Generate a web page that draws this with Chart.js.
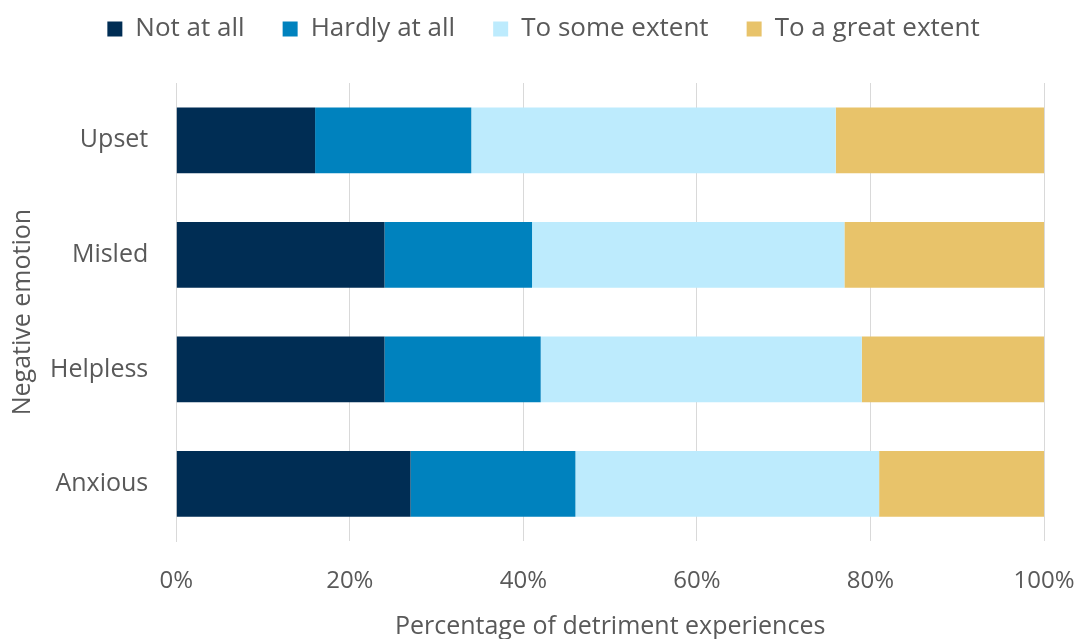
<!DOCTYPE html>
<html><head><meta charset="utf-8">
<script src="https://cdn.jsdelivr.net/npm/chart.js@4"></script>
<style>html,body{margin:0;padding:0;background:#fff}#wrap{width:1085px;height:639px}</style>
</head><body><div id="wrap"><canvas id="c" width="1085" height="639"></canvas></div>
<script>
const categories = ["Upset", "Misled", "Helpless", "Anxious"];
const notAtAll = [16, 24, 24, 27];
const hardlyAtAll = [18, 17, 18, 19];
const toSomeExtent = [42, 36, 37, 35];
const toAGreatExtent = [24, 23, 21, 19];
const seriesNames = ["Not at all", "Hardly at all", "To some extent", "To a great extent"];
const xTicks = [0, 20, 40, 60, 80, 100];

const colors = ["#002D54", "#0082BE", "#BDEBFD", "#E8C36A"];
const values = [notAtAll, hardlyAtAll, toSomeExtent, toAGreatExtent];
const FONT = "'Open Sans', sans-serif";
const TXT = "#595959";

const legendGap = {
  id: 'legendGap',
  beforeInit(chart) {
    const lg = chart.legend;
    if (!lg) return;
    const orig = lg.fit;
    lg.fit = function () { orig.call(this); this.height += 31; };
  }
};

new Chart(document.getElementById('c'), {
  type: 'bar',
  data: {
    labels: categories,
    datasets: seriesNames.map((n, i) => ({
      label: n, data: values[i], backgroundColor: colors[i],
      borderWidth: 0, barPercentage: 0.574, categoryPercentage: 1
    }))
  },
  options: {
    indexAxis: 'y', responsive: false, animation: false,
    layout: { padding: { left: 12, right: 10, top: -22, bottom: -3 } },
    plugins: {
      legend: { position: 'top', labels: { font: { family: FONT, size: 26 }, color: TXT,
        boxWidth: 15, boxHeight: 15, padding: 38 } },
      tooltip: { enabled: false }
    },
    scales: {
      x: { stacked: true, min: 0, max: 100,
        afterBuildTicks: ax => { ax.ticks = xTicks.map(v => ({ value: v })); },
        afterFit: s => { s.paddingRight = 41; },
        ticks: { callback: v => v + '%', font: { family: FONT, size: 24 }, color: TXT, padding: 26 },
        grid: { color: '#D9D9D9', lineWidth: 1, drawTicks: false },
        border: { display: false },
        title: { display: true, text: 'Percentage of detriment experiences', font: { family: FONT, size: 25 }, color: TXT, padding: { top: -10, bottom: 0 } }
      },
      y: { stacked: true,
        ticks: { font: { family: FONT, size: 25 }, color: TXT, padding: 28 },
        grid: { display: false, drawTicks: false },
        border: { display: true, color: '#D9D9D9' },
        title: { display: true, text: 'Negative emotion', font: { family: FONT, size: 25 }, color: TXT, padding: { top: -4, bottom: -16 } }
      }
    }
  },
  plugins: [legendGap]
});
</script></body></html>
